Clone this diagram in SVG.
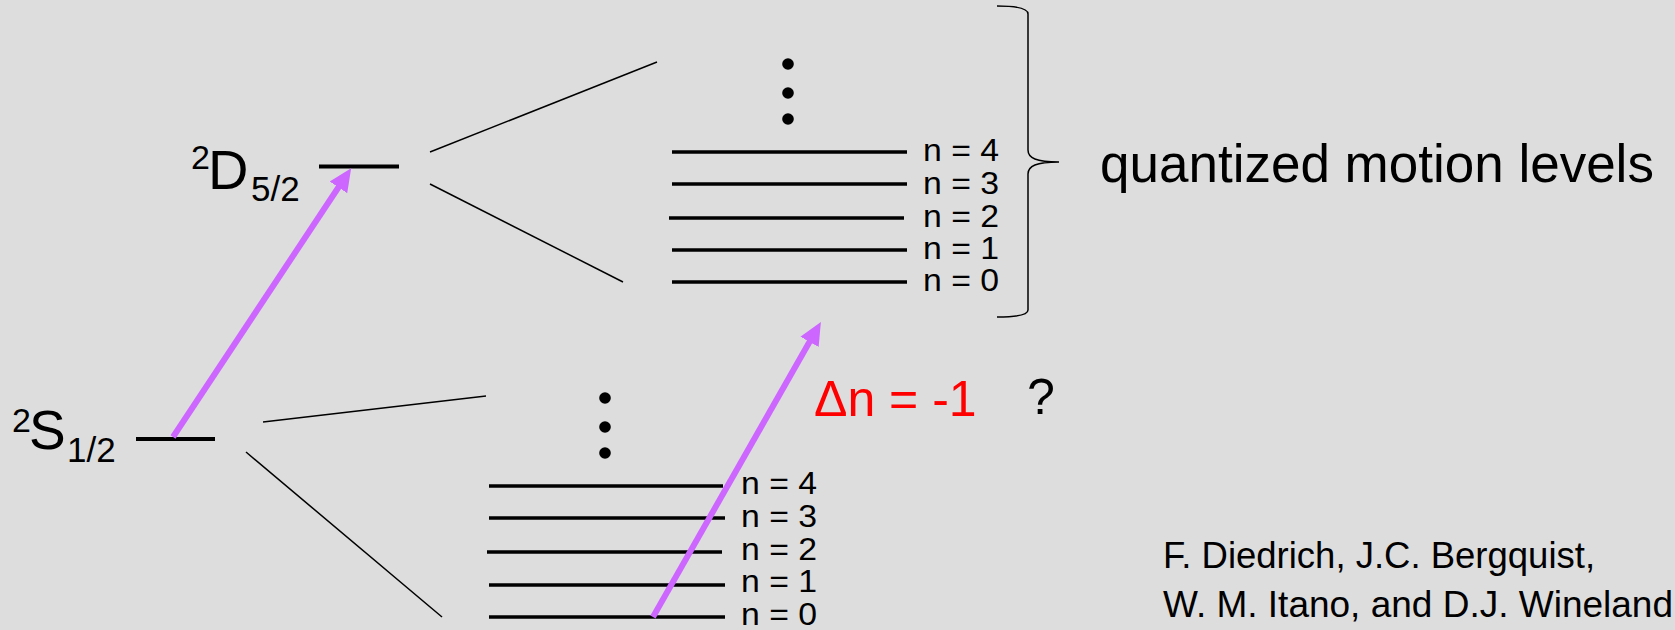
<svg xmlns="http://www.w3.org/2000/svg" width="1675" height="630" viewBox="0 0 1675 630">
  <style>
    text { font-family: "Liberation Sans", Arial, sans-serif; fill: #000; }
    .lvl { stroke: #000; stroke-width: 4; }
    .mlvl { stroke: #000; stroke-width: 3.5; }
    .thin { stroke: #000; stroke-width: 1.5; fill: none; }
    .laser { stroke: #CC66FF; stroke-width: 6; fill: none; }
    .nlab { font-size: 31px; }
    .dot { fill: #000; }
  </style>
  <defs>
    <marker id="ah" markerUnits="userSpaceOnUse" markerWidth="26" markerHeight="24" viewBox="0 -12 26 24" refX="1" refY="0" orient="auto">
      <path d="M0,-10.5 L23,0 L0,10.5 Z" fill="#CC66FF"/>
    </marker>
  </defs>
  <rect x="0" y="0" width="1675" height="630" fill="#DDDDDD"/>

  <g id="connectors">
    <line class="thin" x1="430" y1="152" x2="657" y2="62"/>
    <line class="thin" x1="430" y1="184" x2="623" y2="282"/>
    <line class="thin" x1="263" y1="422" x2="486" y2="396"/>
    <line class="thin" x1="246" y1="452" x2="442" y2="617"/>
  </g>

  <g id="level-D">
    <line class="lvl" x1="319" y1="166.5" x2="399" y2="166.5"/>
    <text x="191" y="169" font-size="34">2</text>
    <text x="208" y="189" font-size="56">D</text>
    <text x="251" y="201" font-size="35">5/2</text>
  </g>

  <g id="level-S">
    <line class="lvl" x1="136" y1="439" x2="215" y2="439"/>
    <text x="12" y="432" font-size="34">2</text>
    <text x="29" y="449" font-size="55">S</text>
    <text x="67" y="462" font-size="35">1/2</text>
  </g>

  <g id="motion-upper">
    <circle class="dot" cx="788" cy="64" r="5.8"/>
    <circle class="dot" cx="788" cy="93" r="5.8"/>
    <circle class="dot" cx="788" cy="119" r="5.8"/>
    <line class="mlvl" x1="672" y1="152" x2="907" y2="152"/>
    <line class="mlvl" x1="672" y1="184" x2="907" y2="184"/>
    <line class="mlvl" x1="669" y1="218" x2="904" y2="218"/>
    <line class="mlvl" x1="672" y1="250" x2="907" y2="250"/>
    <line class="mlvl" x1="672" y1="282" x2="907" y2="282"/>
    <text class="nlab" x="923" y="161" textLength="76" lengthAdjust="spacingAndGlyphs">n = 4</text>
    <text class="nlab" x="923" y="194" textLength="76" lengthAdjust="spacingAndGlyphs">n = 3</text>
    <text class="nlab" x="923" y="227" textLength="76" lengthAdjust="spacingAndGlyphs">n = 2</text>
    <text class="nlab" x="923" y="259" textLength="76" lengthAdjust="spacingAndGlyphs">n = 1</text>
    <text class="nlab" x="923" y="291" textLength="76" lengthAdjust="spacingAndGlyphs">n = 0</text>
  </g>

  <g id="motion-lower">
    <circle class="dot" cx="605" cy="398" r="5.8"/>
    <circle class="dot" cx="605" cy="427" r="5.8"/>
    <circle class="dot" cx="605" cy="453" r="5.8"/>
    <line class="mlvl" x1="489" y1="486" x2="723" y2="486"/>
    <line class="mlvl" x1="489" y1="518" x2="725" y2="518"/>
    <line class="mlvl" x1="487" y1="552" x2="722" y2="552"/>
    <line class="mlvl" x1="489" y1="585" x2="725" y2="585"/>
    <line class="mlvl" x1="489" y1="617" x2="725" y2="617"/>
    <text class="nlab" x="741" y="494" textLength="76" lengthAdjust="spacingAndGlyphs">n = 4</text>
    <text class="nlab" x="741" y="527" textLength="76" lengthAdjust="spacingAndGlyphs">n = 3</text>
    <text class="nlab" x="741" y="560" textLength="76" lengthAdjust="spacingAndGlyphs">n = 2</text>
    <text class="nlab" x="741" y="592" textLength="76" lengthAdjust="spacingAndGlyphs">n = 1</text>
    <text class="nlab" x="741" y="625" textLength="76" lengthAdjust="spacingAndGlyphs">n = 0</text>
  </g>

  <g id="transitions">
    <line class="laser" x1="173" y1="437" x2="339" y2="186.5" marker-end="url(#ah)"/>
    <line class="laser" x1="653" y1="617" x2="810" y2="341" marker-end="url(#ah)"/>
  </g>

  <g id="brace">
    <path class="thin" stroke-width="2" d="M997,6 C1016,6 1028,8 1028,14 L1028,150 C1028,158 1036,162 1059,162 C1036,162 1028,166 1028,174 L1028,310 C1028,315 1016,317 997,317"/>
    <text x="1100" y="182" font-size="53">quantized motion levels</text>
  </g>

  <g id="delta-label">
    <text x="814" y="416" font-size="50" fill="#FF0000" style="fill:#FF0000">Δn = -1</text>
    <text x="1027" y="414" font-size="50">?</text>
  </g>

  <g id="citation">
    <text x="1163" y="568" font-size="36.5">F. Diedrich, J.C. Bergquist,</text>
    <text x="1163" y="617" font-size="37">W. M. Itano, and D.J. Wineland</text>
  </g>
</svg>
